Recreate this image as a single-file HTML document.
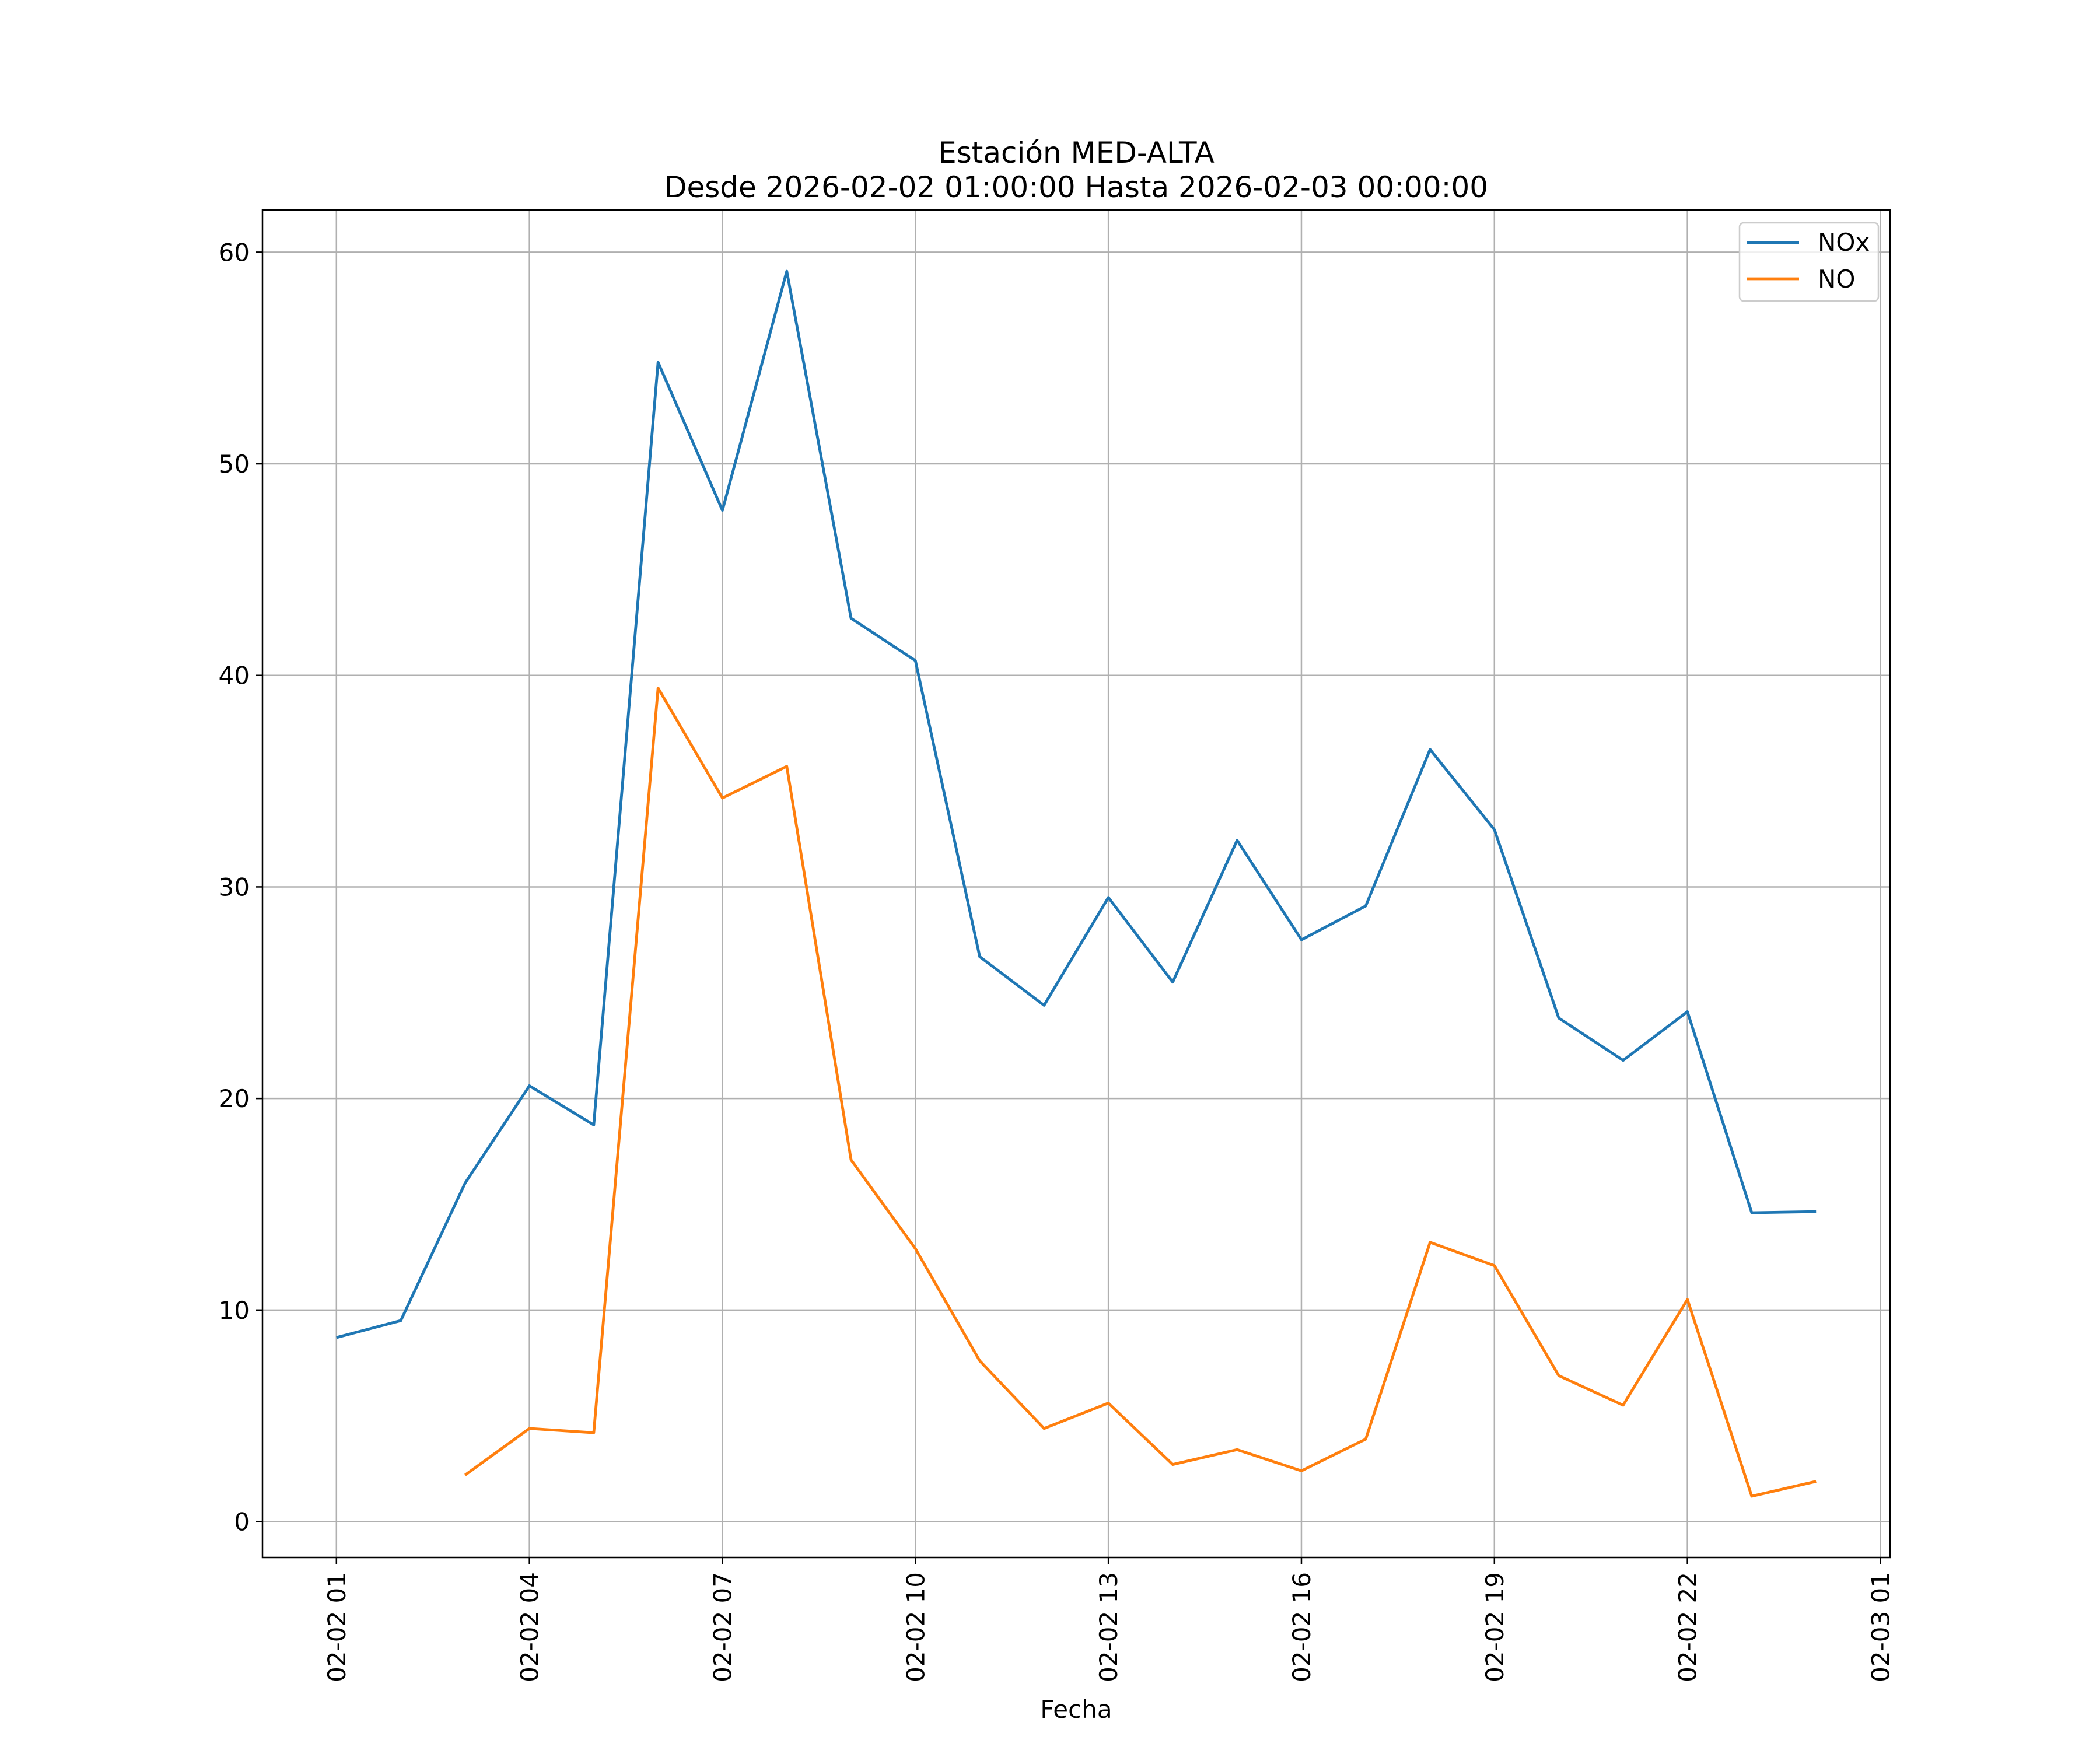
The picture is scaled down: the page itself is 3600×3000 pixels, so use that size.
<!DOCTYPE html>
<html><head><meta charset="utf-8"><style>
html,body{margin:0;padding:0;background:#fff}
svg{display:block;font-family:"DejaVu Sans","Liberation Sans",sans-serif}
</style></head><body>
<svg id="chart" width="3600" height="3000" viewBox="0 0 3600 3000" xmlns="http://www.w3.org/2000/svg">
<rect width="3600" height="3000" fill="#fff"/>
<text x="1845" y="279" font-size="50" text-anchor="middle">Estación MED-ALTA</text>
<text x="1845" y="338" font-size="50" text-anchor="middle">Desde 2026-02-02 01:00:00 Hasta 2026-02-03 00:00:00</text>
<g id="grid"></g>
<g id="series"></g>
<rect x="450" y="360" width="2790" height="2310" fill="none" stroke="#000" stroke-width="2.5"/>
<g id="axes"></g>
<text x="1845" y="2945" font-size="42" text-anchor="middle">Fecha</text>
<g>
<rect x="2982" y="382" width="238" height="134" rx="7" fill="#fff" fill-opacity="0.8" stroke="#ccc" stroke-width="2.5"/>
<line x1="2994" y1="416" x2="3084" y2="416" stroke="#1f77b4" stroke-width="4.8"/>
<text x="3116" y="430" font-size="42">NOx</text>
<line x1="2994" y1="478" x2="3084" y2="478" stroke="#ff7f0e" stroke-width="4.8"/>
<text x="3116" y="493" font-size="42">NO</text>
</g>
</svg>
<script>
const hours = [1,2,3,4,5,6,7,8,9,10,11,12,13,14,15,16,17,18,19,20,21,22,23,24];
const noxValues = [8.7,9.5,16.0,20.6,18.75,54.8,47.8,59.1,42.7,40.7,26.7,24.4,29.5,25.5,32.2,27.5,29.1,36.5,32.7,23.8,21.8,24.1,14.6,14.65];
const noValues = [null,null,2.2,4.4,4.2,39.4,34.2,35.7,17.1,12.9,7.6,4.4,5.6,2.7,3.4,2.4,3.9,13.2,12.1,6.9,5.5,10.5,1.2,1.9];
const xTickHours = [1,4,7,10,13,16,19,22,25];
const xTickLabels = ["02-02 01","02-02 04","02-02 07","02-02 10","02-02 13","02-02 16","02-02 19","02-02 22","02-03 01"];
const yTicks = [0,10,20,30,40,50,60];

const NS="http://www.w3.org/2000/svg";
const L=450,R=3240,T=360,B=2670;
const all=noxValues.concat(noValues).filter(v=>v!==null);
const ymin0=Math.min(...all),ymax0=Math.max(...all),yr=ymax0-ymin0;
const y0=ymin0-0.05*yr,y1=ymax0+0.05*yr;
const xmin0=Math.min(...hours),xmax0=Math.max(...hours),xr=xmax0-xmin0;
const x0=xmin0-0.05*xr,x1=xmax0+0.05*xr;
const X=h=>L+(h-x0)/(x1-x0)*(R-L);
const Y=v=>B-(v-y0)/(y1-y0)*(B-T);
function mk(tag,attrs,parent){const e=document.createElementNS(NS,tag);for(const k in attrs)e.setAttribute(k,attrs[k]);parent.appendChild(e);return e;}
const grid=document.getElementById('grid'),axes=document.getElementById('axes'),series=document.getElementById('series');
xTickHours.forEach((h,i)=>{
  const x=X(h);
  const g=mk('line',{x1:x,x2:x,y1:T,y2:B,stroke:'#b0b0b0','stroke-width':2.5},grid);
  
  
  const t=mk('line',{x1:x,x2:x,y1:B,y2:B+11,stroke:'#000','stroke-width':2.5},axes);
  
  
  const lb=mk('text',{x:0,y:0,'font-size':42,'text-anchor':'end',transform:`translate(${x+15},${B+25}) rotate(-90)`},axes);
  lb.textContent=xTickLabels[i];
  
  
});
yTicks.forEach(v=>{
  const y=Y(v);
  const g=mk('line',{x1:L,x2:R,y1:y,y2:y,stroke:'#b0b0b0','stroke-width':2.5},grid);
  
  
  const t=mk('line',{x1:L-11,x2:L,y1:y,y2:y,stroke:'#000','stroke-width':2.5},axes);
  
  
  const lb=mk('text',{x:L-22,y:y+15,'font-size':42,'text-anchor':'end'},axes);
  lb.textContent=v;
  
  
});
function path(vals){let d='',pen=false;vals.forEach((v,i)=>{if(v===null){pen=false;return;}d+=(pen?'L':'M')+X(hours[i]).toFixed(1)+','+Y(v).toFixed(1);pen=true;});return d;}
const p1=mk('path',{d:path(noxValues),fill:'none',stroke:'#1f77b4','stroke-width':4.8,'stroke-linejoin':'round'},series);


const p2=mk('path',{d:path(noValues),fill:'none',stroke:'#ff7f0e','stroke-width':4.8,'stroke-linejoin':'round'},series);


</script>
</body></html>
